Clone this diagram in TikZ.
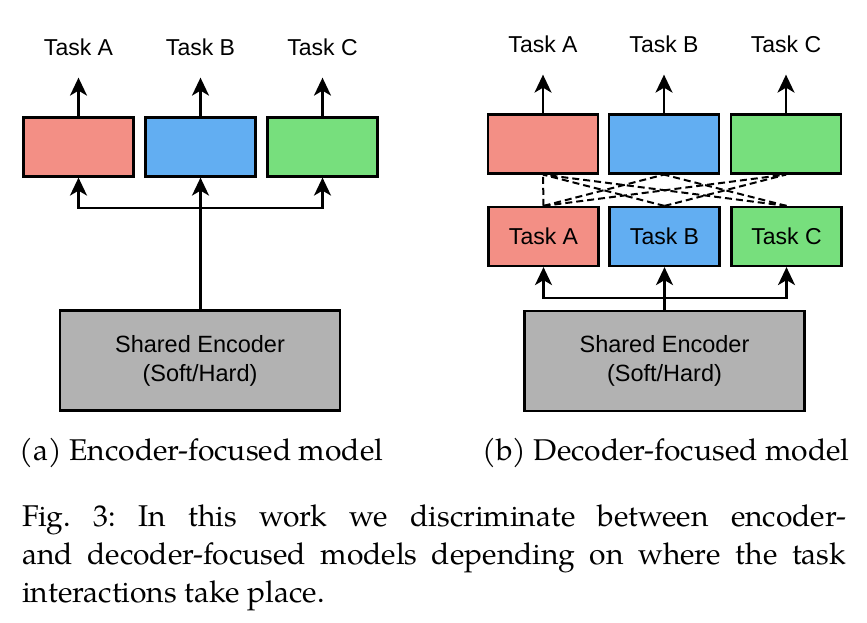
\documentclass[tikz,border=0pt]{standalone}
\usepackage{fontspec}
\newfontfamily\boxfont{Liberation Sans}
\newfontfamily\capfont{TeX Gyre Pagella}
\usetikzlibrary{arrows.meta}

\definecolor{redA}{HTML}{F38F85}
\definecolor{blueB}{HTML}{62AEF2}
\definecolor{greenC}{HTML}{77DF7D}
\definecolor{encgray}{HTML}{B2B2B2}

\tikzset{
  headbox/.style={draw, line width=2.2pt, minimum width=110pt, minimum height=59pt, inner sep=0pt,
    font=\boxfont\fontsize{23}{26}\selectfont},
  encbox/.style={draw, line width=2.2pt, fill=encgray, minimum width=280pt, minimum height=100pt,
    align=center, font=\boxfont\fontsize{23.5}{29}\selectfont},
  tasklabel/.style={inner sep=0pt, font=\boxfont\fontsize{23}{26}\selectfont},
  arr/.style={line width=2.2pt, -{Stealth[length=18pt, width=17pt, inset=5pt]}},
  mix/.style={line width=2pt, dash pattern=on 7pt off 4pt}
}

\begin{document}
\begin{tikzpicture}[x=1pt, y=-1pt]

  \useasboundingbox (0,0) rectangle (867,622);

  % (a) encoder-focused
  \begin{scope}
    \node[headbox, fill=redA]   (la) at (78.5,147)  {};
    \node[headbox, fill=blueB]  (lb) at (200.5,147) {};
    \node[headbox, fill=greenC] (lc) at (322.5,147) {};
    \node[encbox] (lenc) at (200,360.5) {Shared Encoder\\(Soft/Hard)};

    \node[tasklabel] (lta) at (78.5,47)  {Task A};
    \node[tasklabel] (ltb) at (200.5,47) {Task B};
    \node[tasklabel] (ltc) at (322.5,47) {Task C};

    \coordinate (lsplit) at (200.5,208);
  \end{scope}

  \draw[arr, shorten >=22pt] (la) -- (lta);
  \draw[arr, shorten >=22pt] (lb) -- (ltb);
  \draw[arr, shorten >=22pt] (lc) -- (ltc);

  \draw[arr] (lenc.north -| lb) -- (lb.south);
  \draw[arr] (lsplit) -| (la.south);
  \draw[arr] (lsplit) -| (lc.south);

  % (b) decoder-focused
  \begin{scope}
    \node[headbox, fill=redA]   (ra) at (543,144) {};
    \node[headbox, fill=blueB]  (rb) at (664,144) {};
    \node[headbox, fill=greenC] (rc) at (786,144) {};

    \node[headbox, fill=redA]   (rla) at (543.5,236.5) {Task A};
    \node[headbox, fill=blueB]  (rlb) at (664.5,236.5) {Task B};
    \node[headbox, fill=greenC] (rlc) at (786.5,236.5) {Task C};

    \node[encbox] (renc) at (664.5,361) {Shared Encoder\\(Soft/Hard)};

    \node[tasklabel] (rta) at (543,44) {Task A};
    \node[tasklabel] (rtb) at (664,44) {Task B};
    \node[tasklabel] (rtc) at (786,44) {Task C};

    \coordinate (rsplit) at (664.5,298);
  \end{scope}

  \draw[arr, shorten >=22pt] (ra) -- (rta);
  \draw[arr, shorten >=22pt] (rb) -- (rtb);
  \draw[arr, shorten >=22pt] (rc) -- (rtc);

  \draw[arr] (renc.north -| rlb) -- (rlb.south);
  \draw[arr] (rsplit) -| (rla.south);
  \draw[arr] (rsplit) -| (rlc.south);

  % task interactions
  \draw[mix] (rla.north) -- (ra.south);
  \foreach \lo/\hi in {rla/rb, rla/rc, rlb/ra, rlb/rc, rlc/ra, rlc/rb}
    \draw[mix] (\lo.north) -- (\hi.south);

  % captions
  \node[inner sep=0pt, font=\capfont\fontsize{30}{36}\selectfont] (capa) at (201.5,453) {(a) Encoder-focused model};
  \node[inner sep=0pt, font=\capfont\fontsize{30}{36}\selectfont] (capb) at (666,453) {(b) Decoder-focused model};

  \node[inner sep=0pt, anchor=north west, text width=824pt, align=justify,
    font=\capfont\fontsize{30}{38}\selectfont\frenchspacing] (fig) at (22,505)
    {Fig.\ 3: In this work we discriminate between encoder-\linebreak
     and decoder-focused models depending on where the task\linebreak
     interactions take place.};

\end{tikzpicture}
\end{document}
